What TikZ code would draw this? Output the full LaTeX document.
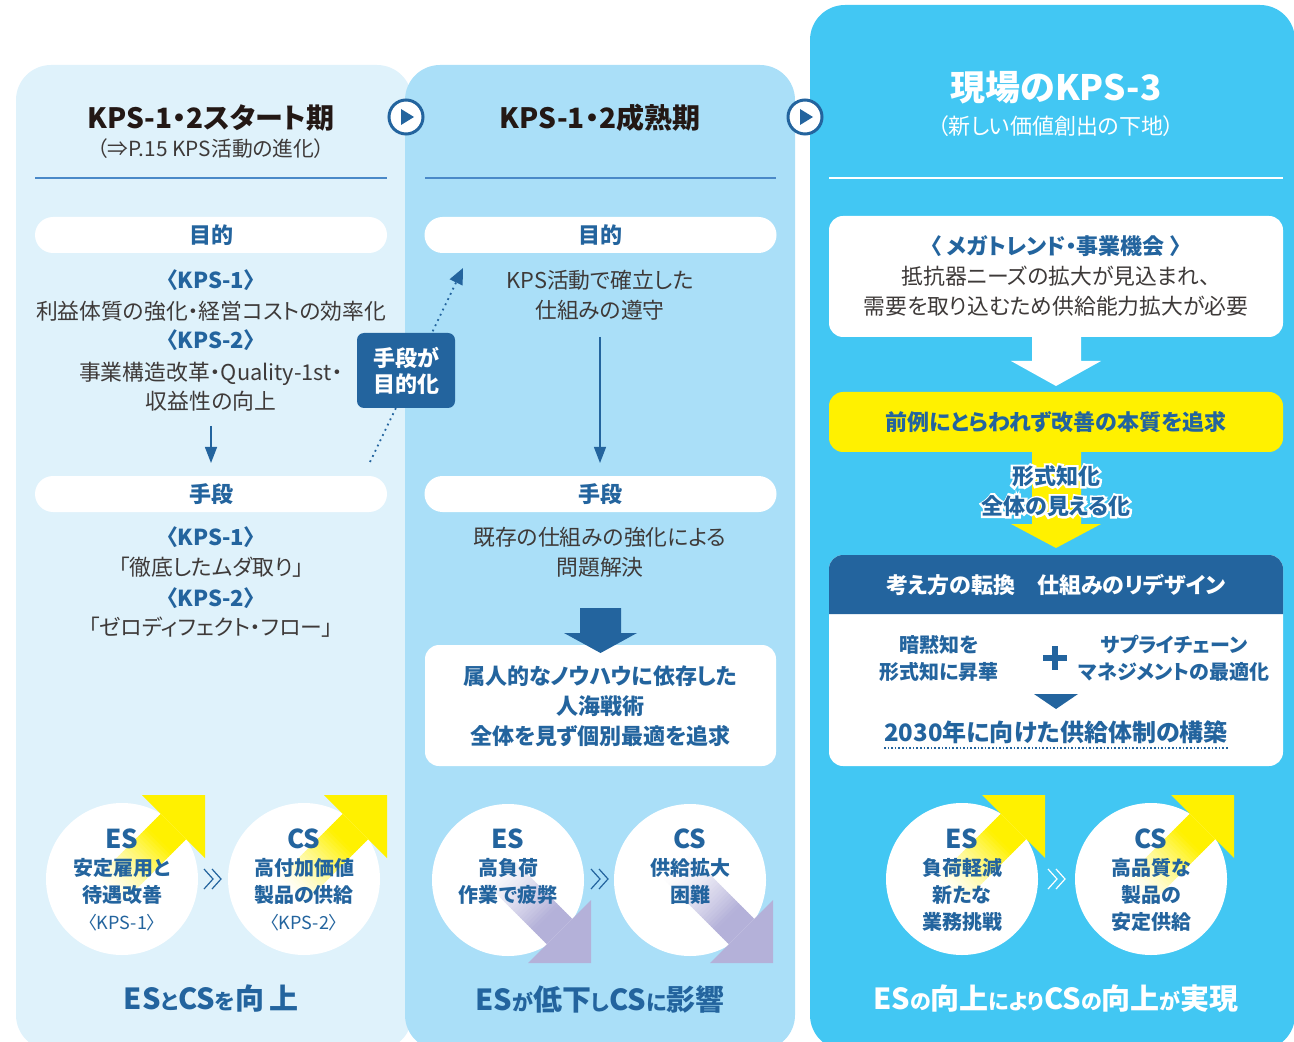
\documentclass[tikz,border=0pt]{standalone}
\usepackage{fontspec}
\setmainfont{Noto Sans CJK JP}[RawFeature=+palt]
\newfontfamily\glowfont{Noto Sans CJK JP}[FakeBold=24,RawFeature=+palt]
\usetikzlibrary{arrows.meta,calc}
\definecolor{blu}{HTML}{23649E}
\definecolor{pA}{HTML}{DFF2FB}
\definecolor{pB}{HTML}{AADFF8}
\definecolor{pC}{HTML}{42C7F3}
\definecolor{gtx}{HTML}{3E3A39}
\definecolor{ttl}{HTML}{231815}
\definecolor{ylw}{HTML}{FFF100}
\definecolor{lav}{HTML}{B4B1D9}
\definecolor{lnc}{HTML}{4A89C8}
\newcommand{\BgT}[1]{{\fontsize{14.5}{14.5}\selectfont #1}}
\newcommand{\SmT}[1]{{\fontsize{10.5}{10.5}\selectfont #1}}
\newcommand{\gradarrow}[4]{%
  \pgfmathsetmacro{\gEx}{#1-98.7}%
  \pgfmathsetmacro{\gEy}{#2+(#3)*98.7}%
  \pgfmathsetmacro{\wy}{(#3)*12.7}%
  \foreach \k in {0,...,29}{%
    \pgfmathsetmacro{\ta}{\k/30}%
    \pgfmathsetmacro{\tb}{min(1,(\k+1.4)/30)}%
    \pgfmathsetmacro{\pc}{100*(min(1,1.25*(\k+0.5)/30))^1.4}%
    \pgfmathsetmacro{\xa}{\gEx+\ta*67.2}%
    \pgfmathsetmacro{\ya}{\gEy-(#3)*\ta*67.2}%
    \pgfmathsetmacro{\xb}{\gEx+\tb*67.2}%
    \pgfmathsetmacro{\yb}{\gEy-(#3)*\tb*67.2}%
    \pgfmathsetmacro{\xap}{\xa+12.7}\pgfmathsetmacro{\yap}{\ya+\wy}%
    \pgfmathsetmacro{\xbp}{\xb+12.7}\pgfmathsetmacro{\ybp}{\yb+\wy}%
    \pgfmathsetmacro{\xam}{\xa-12.7}\pgfmathsetmacro{\yam}{\ya-\wy}%
    \pgfmathsetmacro{\xbm}{\xb-12.7}\pgfmathsetmacro{\ybm}{\yb-\wy}%
    \fill[#4!\pc!white] (\xap,\yap) -- (\xbp,\ybp) -- (\xbm,\ybm) -- (\xam,\yam) -- cycle;
  }%
  \pgfmathsetmacro{\hx}{#1-63}\pgfmathsetmacro{\hy}{#2+(#3)*63}%
  \fill[#4] (\hx,#2) -- (#1,#2) -- (#1,\hy) -- cycle;
}
\begin{document}
\begin{tikzpicture}[x=0.5pt,y=-0.5pt,
  pill/.style={fill=white, rounded corners=9pt, minimum width=176pt, minimum height=18pt, inner sep=0pt, text=blu, font=\bfseries\fontsize{11}{13}\selectfont},
  kpsl/.style={text=blu, inner sep=0pt, font=\bfseries\fontsize{11}{13}\selectfont},
  bodyt/.style={text=gtx, inner sep=0pt, align=center, font=\fontsize{10.9}{15}\selectfont},
  blub/.style={text=blu, inner sep=0pt, align=center, font=\bfseries\fontsize{11}{15}\selectfont},
  circ/.style={circle, fill=white, minimum size=76pt, inner sep=0pt},
  cbig/.style={text=blu, inner sep=0pt, font=\bfseries\fontsize{13}{13}\selectfont},
  csm/.style={text=blu, inner sep=0pt, align=center, font=\bfseries\fontsize{10}{13.5}\selectfont},
  ckps/.style={text=blu, inner sep=0pt, font=\fontsize{9}{10}\selectfont},
  bott/.style={text=blu, inner sep=0pt, font=\bfseries},
  chev/.style={blu, line width=0.6pt},
  ttlA/.style={text=ttl, inner sep=0pt, font=\bfseries\fontsize{14}{16}\selectfont},
  playc/.style={circle, fill=white, draw=blu, line width=1.5pt, minimum size=17pt, inner sep=0pt},
  glowt/.style={inner sep=0pt, align=center, font=\bfseries\fontsize{11}{15}\selectfont},
]
\clip (0,0) rectangle (1294,1042);
% panels
\fill[pA, rounded corners=17.5pt] (16,65) rectangle (412,1050);
\fill[pB, rounded corners=17.5pt] (405,65) rectangle (795,1050);
\fill[pC, rounded corners=17.5pt] (810,5) rectangle (1295,1050);

% ---------- panel 1 ----------
\node[ttlA] (t1) at (211,118) {KPS-1・2スタート期};
\node[text=gtx, inner sep=0pt, font=\fontsize{10.4}{12}\selectfont] (s1) at (211,149) {（⇒P.15 KPS活動の進化）};
\draw[lnc, line width=0.75pt] (35,178) -- (387,178);
\node[pill] (aim1) at (211,235) {目的};
\node[kpsl] (k11) at (211,280) {〈KPS-1〉};
\node[bodyt] (b11) at (211,311) {利益体質の強化・経営コストの効率化};
\node[kpsl] (k12) at (211,340) {〈KPS-2〉};
\node[bodyt, font=\fontsize{10.9}{14.5}\selectfont] (b12) at (211,387) {事業構造改革・Quality-1st・\\収益性の向上};
\coordinate (a1s) at (211,426);
\coordinate (a1e) at (211,463);
\draw[blu, line width=0.7pt, -{Triangle[length=8pt,width=6pt]}] (a1s) -- (a1e);
\node[pill] (mean1) at (211,494) {手段};
\node[kpsl] (k13) at (211,537) {〈KPS-1〉};
\node[bodyt] (b13) at (211,567) {「徹底したムダ取り」};
\node[kpsl] (k14) at (211,598) {〈KPS-2〉};
\node[bodyt] (b14) at (211,627) {「ゼロディフェクト・フロー」};

% ---------- panel 2 ----------
\node[ttlA] (t2) at (600,118) {KPS-1・2成熟期};
\draw[lnc, line width=0.75pt] (425,178) -- (776,178);
\node[pill] (aim2) at (600.5,235) {目的};
\node[bodyt] (b21) at (600,295.5) {KPS活動で確立した\\仕組みの遵守};
\coordinate (a2s) at (600,337);
\coordinate (a2e) at (600,463);
\draw[blu, line width=0.6pt, -{Triangle[length=8pt,width=6pt]}] (a2s) -- (a2e);
\node[pill] (mean2) at (600.5,494) {手段};
\node[bodyt] (b22) at (600,552.5) {既存の仕組みの強化による\\問題解決};
\node[fill=white, rounded corners=7pt, minimum width=175.5pt, minimum height=60.5pt, inner sep=0pt] (res2) at (600.5,705.5) {};
\fill[blu] (580,608) -- (621,608) -- (621,633) -- (637,633) -- (600.5,653) -- (564,633) -- (580,633) -- cycle;
\node[blub] (res2t) at (600.5,706.5) {属人的なノウハウに依存した\\人海戦術\\全体を見ず個別最適を追求};

% dotted arrow and box
\coordinate (dA) at (370,462);
\coordinate (dB) at (463,268);
\draw[blu, dotted, line width=0.9pt, -{Triangle[length=8pt,width=7pt]}] (dA) -- (dB);
\node[fill=blu, rounded corners=3.5pt, minimum width=49pt, minimum height=37.5pt, inner sep=0pt, text=white, align=center, font=\bfseries\fontsize{11}{13}\selectfont] (mm) at (406,370.5) {手段が\\目的化};

% ---------- panel 3 ----------
\node[text=white, inner sep=0pt, font=\bfseries\fontsize{17.5}{19}\selectfont] (t3) at (1056,88) {現場のKPS-3};
\node[text=white, inner sep=0pt, font=\fontsize{11}{12}\selectfont] (s3) at (1056,126) {（新しい価値創出の下地）};
\draw[white, line width=0.75pt] (829,178) -- (1283,178);
\node[fill=white, rounded corners=7pt, minimum width=227pt, minimum height=60.5pt, inner sep=0pt] (mega) at (1056,276.5) {};
\node[kpsl] (megat) at (1056,246) {〈 メガトレンド・事業機会 〉};
\node[bodyt] (megab) at (1056,291) {抵抗器ニーズの拡大が見込まれ、\\需要を取り込むため供給能力拡大が必要};
\fill[white] (1032,336) -- (1081,336) -- (1081,361) -- (1101,361) -- (1056,386) -- (1011,361) -- (1032,361) -- cycle;
\fill[ylw] (1032,450) -- (1081,450) -- (1081,524) -- (1101,524) -- (1056,548) -- (1011,524) -- (1032,524) -- cycle;
\node[fill=ylw, rounded corners=7pt, minimum width=227pt, minimum height=30pt, inner sep=0pt, text=blu, font=\bfseries\fontsize{11}{13}\selectfont] (ybox) at (1056,422) {前例にとらわれず改善の本質を追求};
\node[glowt, text=white, font=\glowfont\fontsize{11}{15}\selectfont] (glow) at (1056,491) {形式知化\\全体の見える化};
\node[glowt, text=blu] (form) at (1056,491) {形式知化\\全体の見える化};
% redesign box
\fill[white, rounded corners=7pt] (829,555) rectangle (1283,766);
\fill[blu, rounded corners=7pt] (829,614) -- (829,555) -- (1283,555) -- (1283,614);
\node[text=white, inner sep=0pt, font=\bfseries\fontsize{11}{13}\selectfont] (rd) at (1056,585) {考え方の転換　仕組みのリデザイン};
\node[csm] (tk) at (939,658.5) {暗黙知を\\形式知に昇華};
\node[csm] (scm) at (1174,658.5) {サプライチェーン\\マネジメントの最適化};
\draw[blu, line width=2.6pt] (1043,658) -- (1067,658) (1055,646) -- (1055,670);
\fill[blu] (1034,694) -- (1078,694) -- (1056,709) -- cycle;
\node[text=blu, inner sep=0pt, font=\bfseries\fontsize{12}{13}\selectfont] (y2030) at (1056,732) {2030年に向けた供給体制の構築};
\draw[blu, densely dotted, line width=0.8pt] (884,748) -- (1229,748);

% ---------- circles ----------
\node[circ] (c1) at (122,879) {};
\node[circ] (c2) at (304,879) {};
\node[circ] (c3) at (508,880) {};
\node[circ] (c4) at (690,880) {};
\node[circ] (c5) at (962,879) {};
\node[circ] (c6) at (1151,879) {};
\gradarrow{205}{795}{1}{ylw}
\gradarrow{387}{795}{1}{ylw}
\gradarrow{591}{963}{-1}{lav}
\gradarrow{773}{963}{-1}{lav}
\gradarrow{1045}{795}{1}{ylw}
\gradarrow{1234}{795}{1}{ylw}

% panel 1 circle texts
\node[cbig] (e1) at (122,839) {ES};
\node[csm] (e1t) at (122,881.5) {安定雇用と\\待遇改善};
\node[ckps] (e1k) at (122,923) {〈KPS-1〉};
\node[cbig] (f1) at (304,839) {CS};
\node[csm] (f1t) at (304,881.5) {高付加価値\\製品の供給};
\node[ckps] (f1k) at (304,923) {〈KPS-2〉};
\draw[chev] (204,869) -- (213,879) -- (204,889) (212,869) -- (221,879) -- (212,889);
\node[bott] (r1) at (211,999) {\BgT{ES}\SmT{と}\BgT{CS}\SmT{を}\BgT{向\,上}};

% panel 2 circle texts
\node[cbig] (e2) at (508,839) {ES};
\node[csm] (e2t) at (508,881.5) {高負荷\\作業で疲弊};
\node[cbig] (f2) at (690,839) {CS};
\node[csm] (f2t) at (690,881.5) {供給拡大\\困難};
\draw[chev] (591,869) -- (600,879) -- (591,889) (599,869) -- (608,879) -- (599,889);
\node[bott] (r2) at (600,999) {\BgT{ES}\SmT{が}\BgT{低下}\SmT{し}\BgT{CS}\SmT{に}\BgT{影響}};

% panel 3 circle texts
\node[cbig] (e3) at (962,839) {ES};
\node[csm] (e3t) at (962,895) {負荷軽減\\新たな\\業務挑戦};
\node[cbig] (f3) at (1151,839) {CS};
\node[csm] (f3t) at (1151,895) {高品質な\\製品の\\安定供給};
\draw[chev, white] (1048,869) -- (1057,879) -- (1048,889) (1056,869) -- (1065,879) -- (1056,889);
\node[bott, text=white] (r3) at (1056,999) {\BgT{ES}\SmT{の}\BgT{向上}\SmT{により}\BgT{CS}\SmT{の}\BgT{向上}\SmT{が}\BgT{実現}};

% play icons
\node[playc] (p1) at (406,117) {};
\fill[blu] (401,109) -- (401,125) -- (414,117) -- cycle;
\node[playc] (p2) at (805,117) {};
\fill[blu] (800,109) -- (800,125) -- (813,117) -- cycle;
\end{tikzpicture}
\end{document}
